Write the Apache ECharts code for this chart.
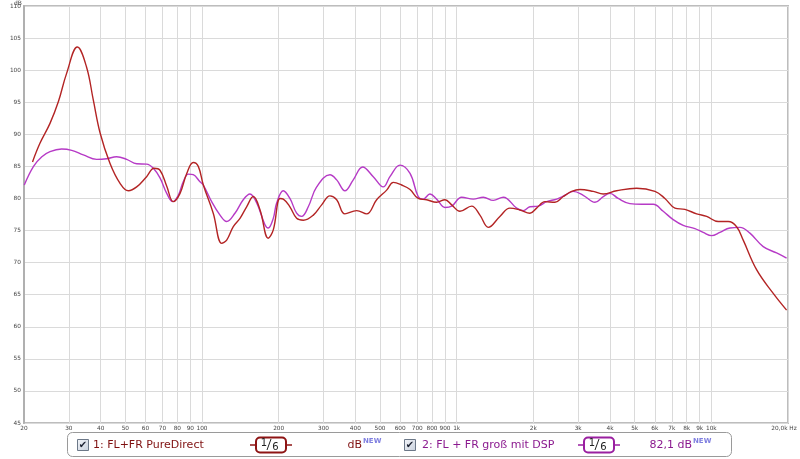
<!DOCTYPE html>
<html><head><meta charset="utf-8">
<script src="https://cdn.jsdelivr.net/npm/echarts@6/dist/echarts.min.js"></script>
<style>html,body{margin:0;padding:0;background:#fff}#c{width:800px;height:459px}</style>
</head><body><div id="c"></div>
<script>
// Series 1: FL+FR PureDirect  [Hz, dB]
const pureDirect = [
[21.6,85.7],[23.1,88.6],[25.3,91.7],[27.3,95.1],[29.4,99.5],[32.4,103.6],[35.2,100.5],[37.4,95.4],[39.8,90.2],
[43.5,85.5],[47.6,82.4],[51.4,81.2],[55.4,81.8],[60.6,83.4],[64.8,84.7],[68.4,84.4],[72.7,81.9],[77.1,79.5],
[82.0,80.8],[87.1,83.9],[92.4,85.6],[96.7,85.0],[101.2,82.1],[110.7,77.7],[119.5,73.0],[125,73.5],[132.7,75.6],
[141,76.9],[149.7,78.7],[159,80.3],[169,78.2],[182,73.8],[190.5,75.1],[202.4,80.0],[208.6,79.9],[221.4,78.7],
[235.3,76.9],[250,76.6],[273.6,77.4],[295,79.0],[318,80.4],[338,79.8],[364,77.6],[405,78.1],[443,77.6],
[485,79.8],[531,81.3],[564,82.5],[608,82.1],[656,81.4],[706,80.0],[762,79.8],[834,79.4],[900,79.8],[956,79.0],
[1030,78.0],[1145,78.8],[1234,77.4],[1331,75.5],[1478,77.2],[1618,78.5],[1772,78.2],[1940,77.7],[2060,78.5],
[2222,79.5],[2432,79.4],[2622,80.3],[2829,81.1],[3048,81.4],[3438,81.1],[3764,80.7],[4246,81.2],[5089,81.6],
[6006,81.1],[6573,80.0],[7194,78.5],[7875,78.3],[8754,77.6],[9584,77.2],[10642,76.4],[11652,76.4],[12566,75.6],
[13342,73.5],[15054,68.9],[17498,65.2],[19748,62.6]
];
// Series 2: FL + FR groß mit DSP  [Hz, dB]
const withDsp = [
[20.05,82.1],[21.8,85.0],[23.5,86.5],[25.3,87.3],[28.1,87.7],[30.8,87.5],[34.2,86.8],[38.6,86.1],[42.2,86.2],
[46.2,86.5],[50.6,86.1],[55.4,85.4],[60.6,85.35],[64.4,84.7],[68.4,83.2],[72.7,80.8],[76.7,79.5],[80.7,80.5],
[84.4,82.6],[88.3,83.8],[92.4,83.7],[98.2,82.6],[101.2,82.1],[109.1,79.5],[117.7,77.4],[125,76.4],[134.7,77.7],
[145.2,79.8],[154.3,80.7],[164,79.3],[176.7,75.9],[182,75.4],[190.5,76.9],[196.4,79.3],[208.6,81.2],[221.4,80.0],
[235.3,77.7],[246.2,77.2],[261.4,78.7],[282,81.8],[318,83.7],[338,82.9],[364,81.2],[392.6,82.9],[427.4,84.9],
[470.4,83.4],[514.8,81.8],[547,83.4],[598.8,85.2],[656,83.9],[706,80.3],[739,79.9],[785,80.7],[834,79.9],
[900,78.6],[956,78.8],[1046,80.2],[1162,79.9],[1272,80.2],[1392,79.7],[1524,80.2],[1720,78.5],[1826,78.1],
[1940,78.7],[2090,78.8],[2256,79.5],[2470,79.9],[2662,80.5],[2869,81.1],[3140,80.5],[3492,79.4],[3764,80.3],
[3998,80.8],[4308,80.0],[4788,79.2],[5324,79.1],[5914,79.1],[6471,78.0],[7084,76.7],[7755,75.8],[8620,75.3],
[9290,74.7],[10024,74.2],[10806,74.7],[11830,75.4],[12948,75.5],[14174,74.6],[15984,72.5],[18042,71.5],[19748,70.7]
];
const xTickValues = [20,30,40,50,60,70,80,90,100,200,300,400,500,600,700,800,900,1000,2000,3000,4000,5000,6000,7000,8000,9000,10000,20000];
const xTickLabels = ['20','30','40','50','60','70','80','90','100','200','300','400','500','600','700','800','900','1k','2k','3k','4k','5k','6k','7k','8k','9k','10k','20,0k Hz'];
const yMin = 45, yMax = 110, yStep = 5;
const legendNames = ['1: FL+FR PureDirect','2: FL + FR groß mit DSP'];
const legendValues = ['dB','82,1 dB'];

const RED = '#b32424', PURPLE = '#b63ac6';
const F = 'DejaVu Sans';
const chart = echarts.init(document.getElementById('c'), null, {renderer:'canvas'});

function badge(x, color){
  return [
    {type:'line', shape:{x1:x-6,y1:445,x2:x+36,y2:445}, style:{stroke:color,lineWidth:1.5}, z:10},
    {type:'rect', shape:{x:x,y:437.5,width:30,height:15,r:4}, style:{fill:'#fff',stroke:color,lineWidth:2}, z:11},
    {type:'text', x:x+8, y:438, style:{text:'1', font:'10px '+F, fill:'#222', align:'center', verticalAlign:'top'}, z:12},
    {type:'line', shape:{x1:x+11,y1:450,x2:x+15,y2:439}, style:{stroke:'#222',lineWidth:1}, z:12},
    {type:'text', x:x+19.5, y:452, style:{text:'6', font:'10px '+F, fill:'#222', align:'center', verticalAlign:'bottom'}, z:12}
  ];
}
function checkbox(x){
  return [
    {type:'rect', shape:{x:x+0.5,y:439.5,width:11,height:11}, style:{fill:new echarts.graphic.LinearGradient(0,0,1,1,[{offset:0,color:'#f4f6fa'},{offset:1,color:'#c8d0dc'}]), stroke:'#6c7888', lineWidth:1}, z:10},
    {type:'text', x:x+6, y:445.5, style:{text:'✔', font:'bold 10px '+F, fill:'#1a2030', align:'center', verticalAlign:'middle'}, z:11}
  ];
}
function newTag(x){
  return {type:'text', x:x, y:438, style:{text:'NEW', font:'bold 7px '+F, fill:'#7f7fe0', verticalAlign:'top'}, z:10};
}

const option = {
  animation:false,
  backgroundColor:'#fff',
  grid:{left:24, right:12, top:6, bottom:36, containLabel:false, outerBoundsMode:'none', show:true, borderColor:'#bdbdbd', borderWidth:2},
  xAxis:{
    type:'log', logBase:10, min:20, max:20000,
    axisLine:{show:false},
    axisTick:{show:false, customValues:xTickValues},
    splitLine:{show:true, lineStyle:{color:'#dadada', width:1}},
    axisLabel:{customValues:xTickValues, fontSize:5.8, fontFamily:F, color:'#444', margin:2, hideOverlap:false,
      rich:{last:{fontSize:5.8, fontFamily:F, color:'#444', padding:[0,8,0,0]}},
      formatter:function(v){ const i = xTickValues.findIndex(t=>Math.abs(t-v)<1e-6*t); if(i<0) return ''; return i===xTickValues.length-1 ? '{last|'+xTickLabels[i]+'}' : xTickLabels[i]; }}
  },
  yAxis:{
    type:'value', min:yMin, max:yMax, interval:yStep,
    axisLine:{show:true, lineStyle:{color:'#b0b0b0', width:2}},
    axisTick:{show:false},
    splitLine:{show:true, lineStyle:{color:'#dadada', width:1}},
    axisLabel:{fontSize:5.8, fontFamily:F, color:'#444', margin:3}
  },
  series:[
    {type:'line', name:legendNames[1], data:withDsp, smooth:0.4, showSymbol:false, lineStyle:{color:PURPLE,width:1.4}, z:3},
    {type:'line', name:legendNames[0], data:pureDirect, smooth:0.4, showSymbol:false, lineStyle:{color:RED,width:1.4}, z:4}
  ],
  graphic:[
    {type:'text', x:14, y:0, style:{text:'dB', font:'6px '+F, fill:'#444'}},
    {type:'rect', shape:{x:67.5,y:432.5,width:664,height:24,r:5}, style:{fill:'#fff',stroke:'#9a9a9a',lineWidth:1}, z:5},
    ...checkbox(77),
    {type:'text', x:93, y:445, style:{text:legendNames[0], font:'11px '+F, fill:'#7f1010', verticalAlign:'middle'}, z:10},
    ...badge(256, '#8e1414'),
    {type:'text', x:362, y:445, style:{text:legendValues[0], font:'11px '+F, fill:'#7f1010', align:'right', verticalAlign:'middle'}, z:10},
    newTag(363),
    ...checkbox(404),
    {type:'text', x:422, y:445, style:{text:legendNames[1], font:'11px '+F, fill:'#8b1a8f', verticalAlign:'middle'}, z:10},
    ...badge(584, '#9a1fa0'),
    {type:'text', x:692, y:445, style:{text:legendValues[1], font:'11px '+F, fill:'#8b1a8f', align:'right', verticalAlign:'middle'}, z:10},
    newTag(693)
  ]
};
chart.setOption(option);
</script></body></html>
